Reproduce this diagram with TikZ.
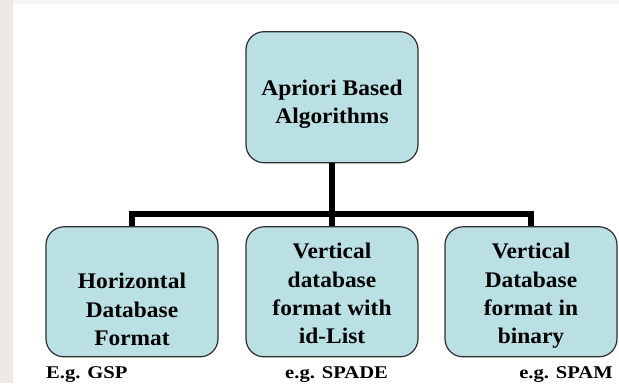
\documentclass[tikz,border=0pt]{standalone}
\usepackage{fontspec}
\setmainfont{Liberation Serif}[FakeStretch=1.05]
\newfontfamily\notefont{Liberation Serif}[FakeStretch=1.15]
\definecolor{boxfill}{RGB}{186,224,228}
\definecolor{boxline}{RGB}{45,45,45}
\definecolor{marginband}{RGB}{238,232,228}
\definecolor{topband}{RGB}{247,245,243}
\begin{document}
\begin{tikzpicture}[x=1bp,y=-1bp,
  box/.style={draw=boxline, line width=1.2bp, fill=boxfill, rounded corners=18bp,
    minimum width=172bp, minimum height=130bp, inner sep=0pt},
  boxtext/.style={align=center, inner sep=0pt, anchor=north,
    font=\fontsize{22.4}{28.4}\selectfont\bfseries},
  note/.style={inner sep=0pt, font=\notefont\fontsize{18}{20}\selectfont\bfseries},
  link/.style={line width=6.8bp, line join=miter}]
\useasboundingbox (0,0) rectangle (619,383);
% page margins
\fill[marginband] (0,0) rectangle (13,383);
\fill[topband] (13,0) rectangle (619,4);

% boxes
\node[box, minimum height=131bp] (root) at (332,97.2) {};
\node[box] (hor)  at (132,291.8) {};
\node[box] (vid)  at (332,291.8) {};
\node[box] (vbin) at (531,291.8) {};

% box captions
\node[boxtext] (roott) at ([yshift=17.3bp]root.center) {Apriori Based\\Algorithms};
\node[boxtext] (hort)  at ([yshift=18.6bp]hor.center) {Horizontal\\Database\\Format};
\node[boxtext] (vidt)  at ([yshift=48.6bp]vid.center) {Vertical\\database\\format with\\id-List};
\node[boxtext] (vbint) at ([yshift=48.6bp]vbin.center) {Vertical\\Database\\format in\\binary};

% tree connectors
\coordinate (bar) at (332,214);
\draw[link] (root.south) -- (vid.north);
\draw[link] (hor.north) -- (hor.north |- bar) -- (vbin.north |- bar) -- (vbin.north);

% examples
\node[note, anchor=base west] (gsp)   at (46,378.5) {E.g. GSP};
\node[note, anchor=base west] (spade) at (285,378) {e.g. SPADE};
\node[note, anchor=base east] (spam)  at (613,378) {e.g. SPAM};
\end{tikzpicture}
\end{document}
